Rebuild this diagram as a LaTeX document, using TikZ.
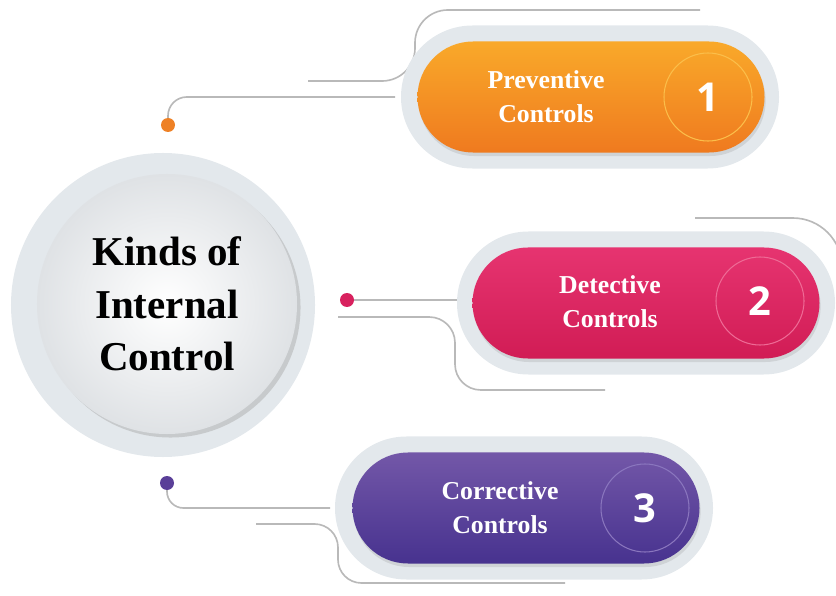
\documentclass[tikz,border=0pt]{standalone}
\usepackage{fontspec}
\setmainfont{Liberation Serif}
\newfontfamily\numfont{Open Sans}
\usepackage{xcolor}
\usepackage{tikz}
\usetikzlibrary{shapes.misc, shadows, positioning}

\definecolor{orangetop}{HTML}{F9A92A}
\definecolor{orangebot}{HTML}{EF7A1F}
\definecolor{orangering}{HTML}{FBBE4A}
\definecolor{orangedot}{HTML}{EE8126}
\definecolor{pinktop}{HTML}{E63470}
\definecolor{pinkbot}{HTML}{D11C55}
\definecolor{pinkring}{HTML}{EE6A95}
\definecolor{pinkdot}{HTML}{D8215E}
\definecolor{violettop}{HTML}{7357A8}
\definecolor{violetbot}{HTML}{47328F}
\definecolor{violetring}{HTML}{8A76BE}
\definecolor{violetdot}{HTML}{5A3F98}
\definecolor{halogray}{HTML}{E3E8EC}
\definecolor{wiregray}{HTML}{B9B9B9}
\definecolor{hubedge}{HTML}{DFE2E5}

\begin{document}
\begin{tikzpicture}[x=0.03cm, y=-0.03cm,
  pill/.style={rounded rectangle, minimum width=10.41cm, minimum height=3.33cm, inner sep=0pt,
    drop shadow={opacity=0.2, shadow xshift=1pt, shadow yshift=-3pt}},
  halo/.style={rounded rectangle, minimum width=11.34cm, minimum height=4.29cm, inner sep=0pt, fill=halogray},
  numring/.style={circle, minimum size=2.64cm, inner sep=0pt, line width=0.9pt, text=white,
    font=\numfont\bfseries\fontsize{34}{34}\selectfont},
  pilltext/.style={align=center, text=white, font=\bfseries\fontsize{22}{29}\selectfont},
  dot/.style={circle, minimum size=0.42cm, inner sep=0pt},
  wire/.style={draw=wiregray, line width=1.4pt}]

\useasboundingbox (0,0) rectangle (836,596);
\clip (0,0) rectangle (836,596);

% Draw wires
\node[dot, fill=orangedot] (DotA) at (168,125) {};
\coordinate (WireAend) at (395,97);
\draw[wire, rounded corners=16pt] (DotA.north) |- (WireAend);
\coordinate (ArcAstart) at (308,81);
\coordinate (ArcAtop) at (415,10);
\coordinate (ArcAend) at (700,10);
\draw[wire, rounded corners=28pt] (ArcAstart) -| (ArcAtop) -- (ArcAend);

\node[dot, fill=pinkdot] (DotB) at (347,300) {};
\coordinate (WireBend) at (458,300);
\draw[wire] (DotB) -- (WireBend);
\coordinate (LowBstart) at (338,317);
\coordinate (LowBturn) at (455,390);
\coordinate (LowBend) at (605,390);
\draw[wire, rounded corners=22pt] (LowBstart) -| (LowBturn) -- (LowBend);
\coordinate (ArcBstart) at (695,218);
\coordinate (ArcBturn) at (842,340);
\draw[wire, rounded corners=42pt] (ArcBstart) -| (ArcBturn);

\node[dot, fill=violetdot] (DotC) at (167,483) {};
\coordinate (WireCend) at (330,508);
\draw[wire, rounded corners=14pt] (DotC.south) |- (WireCend);
\coordinate (LowCstart) at (256,524);
\coordinate (LowCturn) at (338,583);
\coordinate (LowCend) at (565,583);
\draw[wire, rounded corners=20pt] (LowCstart) -| (LowCturn) -- (LowCend);

% Draw the hub
\node[circle, minimum size=9.12cm, fill=halogray] (HubRing) at (163,305) {};
\node[circle, minimum size=7.8cm, inner color=white, outer color=hubedge,
  drop shadow={opacity=0.45, shadow xshift=3pt, shadow yshift=-3pt, fill=gray!70},
  align=center, font=\bfseries\fontsize{35}{45}\selectfont] (Hub) at (167,304) {Kinds of\\Internal\\Control};

% Draw pills
\node[halo] (HaloA) at (590,97) {};
\node[pill, top color=orangetop, bottom color=orangebot] (PillA) at (591,97) {};
\node[numring, draw=orangering] (NumA) at (708,97) {1};
\node[pilltext] (TextA) at (546,97) {Preventive\\Controls};

\node[halo] (HaloB) at (646,303) {};
\node[pill, top color=pinktop, bottom color=pinkbot] (PillB) at (646,303) {};
\node[numring, draw=pinkring] (NumB) at (760,301) {2};
\node[pilltext] (TextB) at (610,302) {Detective\\Controls};

\node[halo] (HaloC) at (524,508) {};
\node[pill, top color=violettop, bottom color=violetbot] (PillC) at (526,508) {};
\node[numring, draw=violetring] (NumC) at (645,508) {3};
\node[pilltext] (TextC) at (500,508) {Corrective\\Controls};

\end{tikzpicture}
\end{document}
